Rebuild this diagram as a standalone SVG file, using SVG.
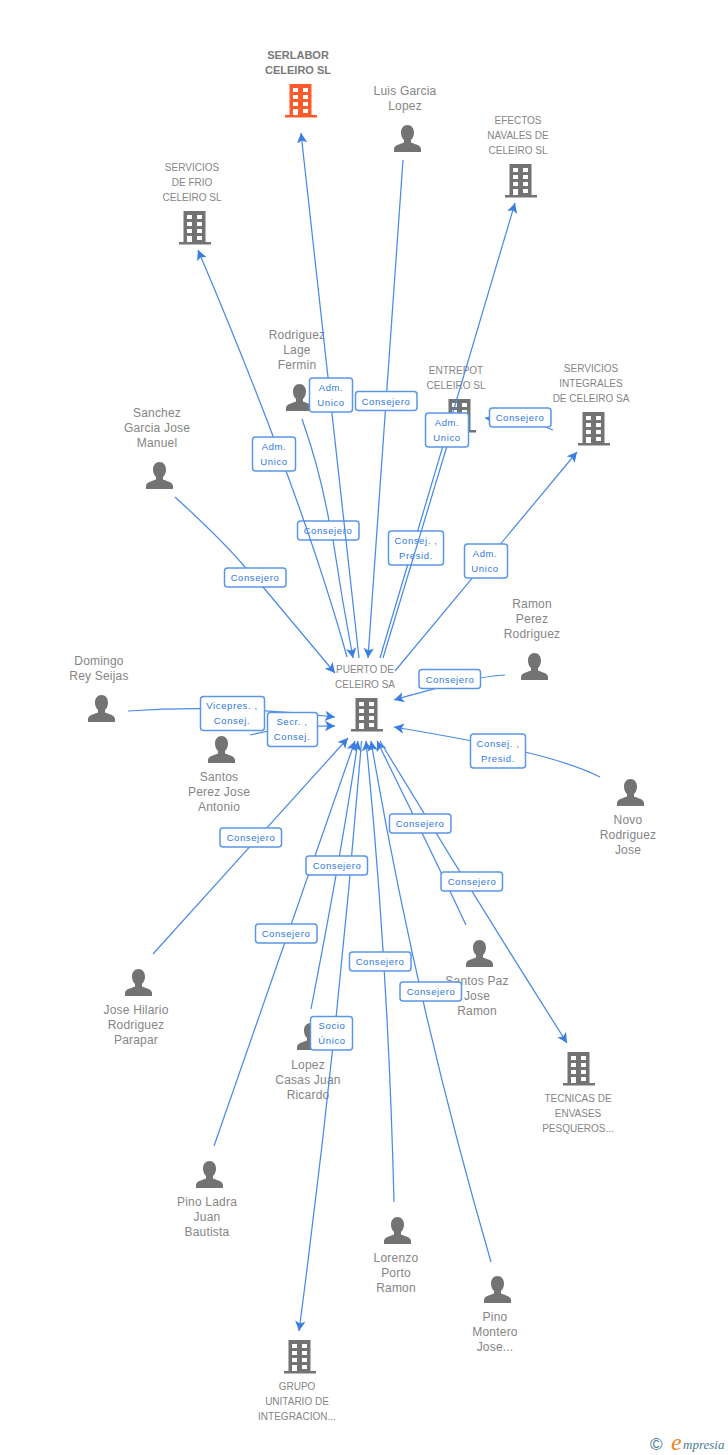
<svg xmlns="http://www.w3.org/2000/svg" width="728" height="1455" viewBox="0 0 728 1455">
<style>
text{font-family:"Liberation Sans",Arial,sans-serif}
.n{font-size:12px;fill:#858585;text-anchor:middle;letter-spacing:.2px}
.h{font-size:11px;fill:#7a7a7a;text-anchor:middle;font-weight:bold}
.c{font-size:10px;fill:#858585;text-anchor:middle}
.l{font-size:9.5px;fill:#2f77e0;text-anchor:middle;letter-spacing:.6px}
.b{fill:#fff;stroke:#5b96e8;stroke-width:1.5}
.e{fill:none;stroke:#4a8ae6;stroke-width:1.25}
.g{fill:#737373}
.r{fill:#ff5a2b}
</style>
<defs>
<marker id="a" markerWidth="12" markerHeight="12" refX="10" refY="6" orient="auto" markerUnits="userSpaceOnUse"><path d="M0 .8L10 6L0 11.200L2.500 6Z" fill="#3a7fe0"/></marker>
<path id="bld" fill-rule="evenodd" d="M4.500 0H26.500V31H32V33.500H0V31H4.500ZM8 4V8H13V4ZM18 4V8H23V4ZM8 11V15H13V11ZM18 11V15H23V11ZM8 18V22H13V18ZM18 18V22H23V18ZM8 25V31H13V25ZM18 25V29H23V25Z"/>
<path id="per" d="M13.500 0C17.500 0 20 3.200 20 7.500C20 11 18.600 13.500 17 15V17.500C20 19 27 20 27 24V27H0V24C0 20 7 19 10 17.500V15C8.400 13.500 7 11 7 7.500C7 3.200 9.500 0 13.500 0Z"/>
</defs>
<g id="node-puerto"><text class="c" x="365" y="673">PUERTO DE</text><text class="c" x="365" y="688">CELEIRO SA</text><use href="#bld" class="g" x="351" y="698"/></g>
<g id="node-serlabor"><text class="h" x="298" y="59">SERLABOR</text><text class="h" x="298" y="74">CELEIRO SL</text><use href="#bld" class="r" x="285" y="84"/></g>
<g id="node-luis"><text class="n" x="405" y="95">Luis Garcia</text><text class="n" x="405" y="110">Lopez</text><use href="#per" class="g" x="394" y="125"/></g>
<g id="node-efectos"><text class="c" x="518" y="124">EFECTOS</text><text class="c" x="518" y="139">NAVALES DE</text><text class="c" x="518" y="154">CELEIRO SL</text><use href="#bld" class="g" x="505" y="164"/></g>
<g id="node-frio"><text class="c" x="192" y="171">SERVICIOS</text><text class="c" x="192" y="186">DE FRIO</text><text class="c" x="192" y="201">CELEIRO SL</text><use href="#bld" class="g" x="179" y="211"/></g>
<g id="node-rodriguez"><text class="n" x="297" y="339">Rodriguez</text><text class="n" x="297" y="354">Lage</text><text class="n" x="297" y="369">Fermin</text><use href="#per" class="g" x="286" y="384"/></g>
<g id="node-entrepot"><text class="c" x="456" y="374">ENTREPOT</text><text class="c" x="456" y="389">CELEIRO SL</text><use href="#bld" class="g" x="444" y="399"/></g>
<g id="node-integrales"><text class="c" x="591" y="372">SERVICIOS</text><text class="c" x="591" y="387">INTEGRALES</text><text class="c" x="591" y="402">DE CELEIRO SA</text><use href="#bld" class="g" x="578" y="412"/></g>
<g id="node-sanchez"><text class="n" x="157" y="417">Sanchez</text><text class="n" x="157" y="432">Garcia Jose</text><text class="n" x="157" y="447">Manuel</text><use href="#per" class="g" x="146" y="462"/></g>
<g id="node-domingo"><text class="n" x="99" y="665">Domingo</text><text class="n" x="99" y="680">Rey Seijas</text><use href="#per" class="g" x="88" y="695"/></g>
<g id="node-ramon"><text class="n" x="532" y="608">Ramon</text><text class="n" x="532" y="623">Perez</text><text class="n" x="532" y="638">Rodriguez</text><use href="#per" class="g" x="521" y="653"/></g>
<g id="node-santos-perez"><use href="#per" class="g" x="208" y="736"/><text class="n" x="219" y="781">Santos</text><text class="n" x="219" y="796">Perez Jose</text><text class="n" x="219" y="811">Antonio</text></g>
<g id="node-novo"><use href="#per" class="g" x="617" y="779"/><text class="n" x="628" y="824">Novo</text><text class="n" x="628" y="839">Rodriguez</text><text class="n" x="628" y="854">Jose</text></g>
<g id="node-santos-paz"><use href="#per" class="g" x="466" y="940"/><text class="n" x="477" y="985">Santos Paz</text><text class="n" x="477" y="1000">Jose</text><text class="n" x="477" y="1015">Ramon</text></g>
<g id="node-hilario"><use href="#per" class="g" x="125" y="969"/><text class="n" x="136" y="1014">Jose Hilario</text><text class="n" x="136" y="1029">Rodriguez</text><text class="n" x="136" y="1044">Parapar</text></g>
<g id="node-lopez"><use href="#per" class="g" x="297" y="1023"/><text class="n" x="308" y="1069">Lopez</text><text class="n" x="308" y="1084">Casas Juan</text><text class="n" x="308" y="1099">Ricardo</text></g>
<g id="node-tecnicas"><use href="#bld" class="g" x="563" y="1052"/><text class="c" x="578" y="1102">TECNICAS DE</text><text class="c" x="578" y="1117">ENVASES</text><text class="c" x="578" y="1132">PESQUEROS...</text></g>
<g id="node-ladra"><use href="#per" class="g" x="196" y="1161"/><text class="n" x="207" y="1206">Pino Ladra</text><text class="n" x="207" y="1221">Juan</text><text class="n" x="207" y="1236">Bautista</text></g>
<g id="node-lorenzo"><use href="#per" class="g" x="384" y="1217"/><text class="n" x="396" y="1262">Lorenzo</text><text class="n" x="396" y="1277">Porto</text><text class="n" x="396" y="1292">Ramon</text></g>
<g id="node-montero"><use href="#per" class="g" x="484" y="1276"/><text class="n" x="495" y="1321">Pino</text><text class="n" x="495" y="1336">Montero</text><text class="n" x="495" y="1351">Jose...</text></g>
<g id="node-grupo"><use href="#bld" class="g" x="284" y="1340"/><text class="c" x="297" y="1390">GRUPO</text><text class="c" x="297" y="1405">UNITARIO DE</text><text class="c" x="297" y="1420">INTEGRACION...</text></g>
<g id="labels-under">
<rect class="b" x="297.500" y="521" width="61.500" height="19" rx="3"/><text class="l" x="328" y="534">Consejero</text>
<rect class="b" x="388.500" y="531" width="55" height="34" rx="3"/><text class="l" x="416" y="544">Consej. ,</text><text class="l" x="416" y="559">Presid.</text>
</g>
<g id="connectors" class="e">
<path marker-end="url(#a)" d="M359 658L301 133"/>
<path marker-end="url(#a)" d="M403 160L368 658"/>
<path marker-end="url(#a)" d="M380 658L407.600 565M417.700 531L515 203"/>
<path d="M383 658L450 436"/>
<path marker-end="url(#a)" d="M347 657Q302 495 198 250"/>
<path marker-end="url(#a)" d="M302 419Q320 470 329 521M333 540Q342 600 353 658"/>
<path marker-end="url(#a)" d="M553 430L541 425L485 418"/>
<path marker-end="url(#a)" d="M395 671L577 452"/>
<path marker-end="url(#a)" d="M175 497Q222 540 245 567L263 587L335 673"/>
<path marker-end="url(#a)" d="M505 675C470 677 430 690 394 700"/>
<path marker-end="url(#a)" d="M600 777C560 757 500 745 394 727"/>
<path marker-end="url(#a)" d="M128 711C190 707 260 708 335 717"/>
<path marker-end="url(#a)" d="M250 735L292 726L335 726"/>
<path marker-end="url(#a)" d="M153 954L348 738"/>
<path marker-end="url(#a)" d="M214 1146L355 741"/>
<path marker-end="url(#a)" d="M311 1009Q342 850 358 741"/>
<path marker-end="url(#a)" d="M361.500 741Q338 1036 299 1331"/>
<path marker-end="url(#a)" d="M394 1202Q388 960 366 741"/>
<path marker-end="url(#a)" d="M491 1262Q415 1000 371 741"/>
<path marker-end="url(#a)" d="M466 925Q425 838 377 741"/>
<path marker-end="url(#a)" d="M380 741Q470 890 567 1043"/>
</g>
<g id="labels">
<rect class="b" x="309.500" y="378" width="43" height="34" rx="3"/><text class="l" x="331" y="391">Adm.</text><text class="l" x="331" y="406">Unico</text>
<rect class="b" x="355.500" y="391.500" width="61.500" height="19" rx="3"/><text class="l" x="386" y="404.500">Consejero</text>
<rect class="b" x="252.500" y="437" width="43" height="34" rx="3"/><text class="l" x="274" y="450">Adm.</text><text class="l" x="274" y="465">Unico</text>
<rect class="b" x="425.500" y="413" width="43" height="34" rx="3"/><text class="l" x="447" y="426">Adm.</text><text class="l" x="447" y="441">Unico</text>
<rect class="b" x="489.500" y="408" width="61.500" height="19" rx="3"/><text class="l" x="520" y="421">Consejero</text>
<rect class="b" x="464.500" y="544" width="43" height="34" rx="3"/><text class="l" x="485" y="557">Adm.</text><text class="l" x="485" y="572">Unico</text>
<rect class="b" x="224.500" y="568" width="61.500" height="19" rx="3"/><text class="l" x="255" y="581">Consejero</text>
<rect class="b" x="419" y="669.500" width="61.500" height="19" rx="3"/><text class="l" x="450" y="682.500">Consejero</text>
<rect class="b" x="200.500" y="696.500" width="64" height="34" rx="3"/><text class="l" x="232" y="709">Vicepres. ,</text><text class="l" x="232" y="724">Consej.</text>
<rect class="b" x="267.500" y="712.500" width="50" height="34" rx="3"/><text class="l" x="292" y="725">Secr. ,</text><text class="l" x="292" y="740">Consej.</text>
<rect class="b" x="470.500" y="734" width="55" height="34" rx="3"/><text class="l" x="498" y="747">Consej. ,</text><text class="l" x="498" y="762">Presid.</text>
<rect class="b" x="389.500" y="814" width="61.500" height="19" rx="3"/><text class="l" x="420" y="827">Consejero</text>
<rect class="b" x="220" y="828" width="61.500" height="19" rx="3"/><text class="l" x="251" y="841">Consejero</text>
<rect class="b" x="306" y="856" width="61.500" height="19" rx="3"/><text class="l" x="337" y="869">Consejero</text>
<rect class="b" x="441" y="872" width="61.500" height="19" rx="3"/><text class="l" x="472" y="885">Consejero</text>
<rect class="b" x="255.500" y="924" width="61.500" height="19" rx="3"/><text class="l" x="286" y="937">Consejero</text>
<rect class="b" x="349.500" y="952" width="61.500" height="19" rx="3"/><text class="l" x="380" y="965">Consejero</text>
<rect class="b" x="400" y="982" width="61.500" height="19" rx="3"/><text class="l" x="431" y="995">Consejero</text>
<rect class="b" x="310.500" y="1016.500" width="42" height="33.500" rx="3"/><text class="l" x="332" y="1029">Socio</text><text class="l" x="332" y="1044">Único</text>
</g>
<g id="logo"><text x="650" y="1450" font-size="17" fill="#4a7a90">©</text><text x="671" y="1450" font-size="24" font-style="italic" fill="#f08020" style="font-family:'Liberation Serif',serif">e</text><text x="683" y="1449" font-size="13" font-style="italic" fill="#4a7a90" style="font-family:'Liberation Serif',serif">mpresia</text></g>
</svg>
